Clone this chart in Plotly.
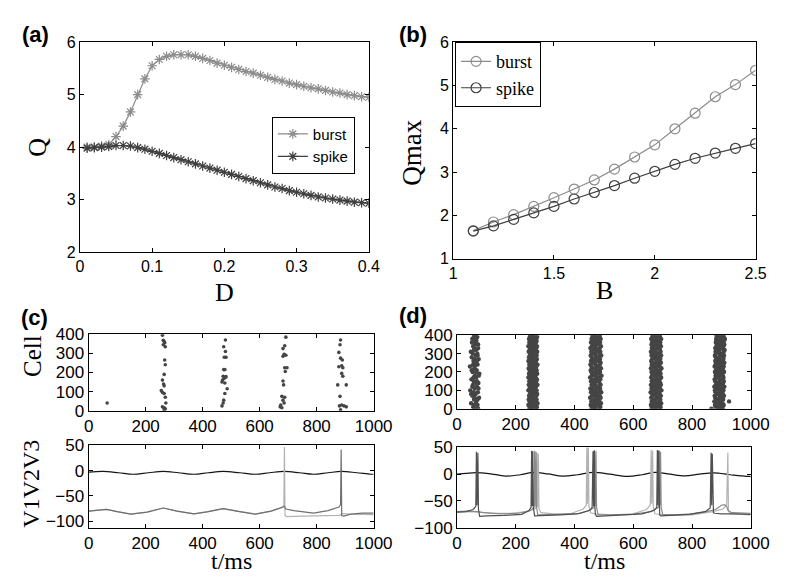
import plotly.graph_objects as go

W, H = 786, 580

# ---------------- panel (a) ----------------
D_vals = [0.01, 0.02, 0.03, 0.04, 0.05, 0.06, 0.07, 0.08, 0.09, 0.10,
          0.11, 0.12, 0.13, 0.14, 0.15, 0.16, 0.17, 0.18, 0.19, 0.20,
          0.21, 0.22, 0.23, 0.24, 0.25, 0.26, 0.27, 0.28, 0.29, 0.30,
          0.31, 0.32, 0.33, 0.34, 0.35, 0.36, 0.37, 0.38, 0.39, 0.40]
Q_burst = [4.00, 4.00, 4.02, 4.05, 4.20, 4.40, 4.67, 5.00, 5.30, 5.55,
           5.67, 5.73, 5.76, 5.76, 5.76, 5.73, 5.69, 5.65, 5.60, 5.56,
           5.52, 5.48, 5.44, 5.41, 5.37, 5.33, 5.29, 5.26, 5.22, 5.19,
           5.16, 5.13, 5.11, 5.08, 5.05, 5.03, 5.00, 4.98, 4.96, 4.95]
Q_spike = [3.98, 3.99, 4.00, 4.01, 4.03, 4.03, 4.02, 3.99, 3.96, 3.92,
           3.88, 3.84, 3.80, 3.76, 3.72, 3.68, 3.64, 3.60, 3.56, 3.52,
           3.48, 3.44, 3.40, 3.36, 3.32, 3.28, 3.24, 3.21, 3.17, 3.14,
           3.11, 3.08, 3.05, 3.03, 3.01, 2.99, 2.97, 2.95, 2.94, 2.93]

# ---------------- panel (b) ----------------
B_vals = [1.1, 1.2, 1.3, 1.4, 1.5, 1.6, 1.7, 1.8, 1.9, 2.0, 2.1, 2.2, 2.3, 2.4, 2.5]
Qmax_burst = [1.65, 1.85, 2.02, 2.21, 2.41, 2.61, 2.82, 3.07, 3.35, 3.63, 4.00, 4.36, 4.74, 5.02, 5.35]
Qmax_spike = [1.64, 1.76, 1.91, 2.06, 2.21, 2.38, 2.53, 2.69, 2.86, 3.02, 3.18, 3.32, 3.44, 3.55, 3.66]

# ---------------- panel (c) raster ----------------
rc_time = [65,
           259, 262, 265, 267, 262, 269, 267, 269, 265, 259, 263, 265, 255, 259, 265, 269, 271, 259, 265, 269, 265,
           480, 474, 480, 476, 482, 474, 478, 472, 480, 476, 470, 468, 478, 486, 478, 474, 472, 468, 482,
           692, 688, 682, 686, 692, 682, 688, 696, 690, 682, 684, 678, 682, 688, 674, 672, 678, 686,
           884, 882, 878, 884, 890, 888, 878, 892, 888, 892, 874, 904, 882, 880, 888, 896, 904, 884]
rc_cell = [40,
           395, 368, 362, 355, 345, 335, 265, 240, 190, 160, 140, 130, 105, 95, 90, 70, 40, 20, 15, 10, 5,
           370, 335, 310, 280, 280, 215, 215, 180, 175, 170, 160, 150, 145, 115, 90, 55, 40, 25, 178,
           385, 340, 325, 295, 290, 285, 225, 225, 205, 155, 135, 75, 55, 70, 30, 20, 15, 40,
           370, 345, 305, 275, 265, 235, 230, 225, 195, 180, 135, 135, 75, 25, 30, 25, 20, 5]

# ---------------- panel (c) voltages (t ms, mV) ----------------
vc_black = [(0, -3), (50, -1.5), (105, -4), (157, -7), (210, -4), (262, -1.5), (315, -4), (370, -7),
            (420, -4), (472, -1.5), (530, -4), (585, -7), (635, -4), (687, -1.5), (740, -4), (789, -7),
            (840, -4), (887, -1.5), (940, -4), (990, -7), (1000, -7)]
vc_light = [(0, -80), (30, -78.5), (63, -76.5), (100, -81), (148, -86), (205, -82), (262, -74), (310, -80),
            (370, -85.5), (420, -81), (472, -75), (530, -81), (585, -86), (640, -80), (680, -73), (685, -68),
            (687, 47), (689, -89), (695, -91), (750, -90), (820, -89.5), (880, -88.5), (890, -85), (920, -86),
            (1000, -87)]
vc_mid = [(0, -80), (30, -78.5), (63, -76.5), (100, -81), (148, -86), (205, -82), (262, -74), (310, -80),
          (370, -85.5), (420, -81), (472, -75), (530, -81), (585, -86), (640, -80), (680, -72), (687, -71),
          (692, -76), (720, -79), (789, -84), (840, -79), (878, -72), (884, -67), (886, 42), (888, -89),
          (895, -90), (920, -86), (960, -84), (1000, -84)]

# ---------------- panel (d) raster (spike times per cell row) ----------------
rd_cells = list(range(0, 401, 10))
rd_band1_a = [62, 55, 70, 48, 66, 58, 75, 52, 63, 71, 45, 60, 68, 54, 73, 57, 49, 65, 61, 76,
              53, 67, 59, 44, 70, 62, 56, 74, 50, 64, 69, 47, 58, 72, 55, 63, 51, 66, 60, 57, 64]
rd_band1_b = [72, None, 58, 64, None, 70, 60, None, 48, 57, None, 73, 52, None, 62, 68, None, 56, 74, None,
              65, 50, None, 60, 55, None, 68, 61, None, 70, 54, None, 66, 59, None, 72, 64, None, 52, 69, 58]
rd_band2_l = [246, 249, 243, 251, 247, 244, 250, 245, 248, 252, 243, 247, 250, 244, 249, 246, 251, 243, 248, 245,
              250, 247, 244, 252, 246, 249, 243, 250, 245, 248, 251, 244, 247, 250, 243, 249, 246, 252, 245, 248, 250]
rd_band2_m = [258, 255, 261, 257, 259, 254, 262, 256, 260, 258, 255, 263, 257, 259, 254, 261, 258, 256, 262, 255,
              259, 257, 260, 254, 261, 258, 256, 263, 257, 255, 260, 259, 254, 262, 256, 258, 261, 255, 259, 257, 260]
rd_band2_r = [269, 272, 266, 274, 268, 271, 265, 270, 273, 267, 271, 264, 269, 274, 266, 270, 272, 268, 265, 273,
              269, 271, 266, 270, 274, 267, 269, 272, 265, 271, 268, 273, 266, 270, 272, 264, 269, 271, 267, 273, 268]
rd_band3_l = [458, 462, 455, 461, 457, 464, 453, 459, 463, 456, 460, 454, 462, 458, 465, 456, 461, 453, 459, 463,
              457, 455, 462, 458, 454, 461, 456, 463, 459, 455, 460, 457, 462, 454, 459, 464, 456, 461, 458, 463, 460]
rd_band3_m = [472, 469, 475, 471, 474, 468, 476, 470, 473, 475, 469, 472, 477, 471, 468, 474, 472, 476, 470, 473,
              469, 475, 471, 477, 472, 468, 474, 470, 476, 472, 469, 475, 471, 473, 468, 476, 472, 470, 474, 471, 473]
rd_band3_r = [484, 488, 482, 490, 485, 483, 489, 486, 481, 491, 484, 487, 483, 489, 485, 482, 488, 486, 492, 483,
              487, 485, 490, 482, 486, 489, 484, 487, 483, 491, 485, 488, 482, 486, 490, 484, 487, 483, 489, 485, 486]
rd_band4_l = [662, 667, 660, 665, 663, 668, 661, 666, 664, 659, 667, 662, 665, 660, 668, 663, 666, 661, 664, 669,
              662, 665, 660, 667, 663, 666, 661, 664, 668, 662, 665, 660, 667, 663, 666, 662, 664, 668, 661, 665, 666]
rd_band4_m = [676, 679, 674, 681, 677, 675, 680, 678, 673, 682, 676, 679, 675, 681, 677, 674, 680, 678, 676, 683,
              675, 679, 677, 681, 674, 678, 680, 676, 682, 675, 679, 677, 673, 680, 678, 676, 681, 675, 679, 677, 678]
rd_band4_r = [690, 693, 688, 695, 689, 692, 687, 694, 690, 688, 696, 691, 689, 694, 692, 687, 690, 695, 689, 693,
              688, 691, 696, 690, 687, 694, 689, 692, 690, 695, 688, 693, 691, 689, 694, 690, 692, 688, 695, 691, 690]
rd_band5_l = [866, 880, 878, 884, 876, 882, 879, 877, 885, 880, 878, 883, 876, 881, 884, 879, 877, 882, 880, 886,
              878, 881, 884, 877, 880, 883, 879, 885, 881, 878, 882, 880, 884, 879, 883, 886, 881, 884, 882, 885, 883]
rd_band5_m = [892, 890, 894, 891, 896, 889, 893, 895, 890, 897, 892, 894, 889, 896, 891, 893, 895, 890, 894, 892,
              897, 891, 893, 895, 890, 894, 896, 892, 893, 897, 895, 891, 894, 896, 893, 895, 897, 894, 898, 896, 895]
rd_band5_r = [905, 902, 908, 904, 926, 906, 903, 909, 905, 902, 907, 904, 910, 903, 906, 908, 904, 907, 905, 902,
              909, 906, 903, 908, 905, 910, 904, 907, 906, 909, 903, 908, 911, 905, 907, 910, 906, 909, 912, 908, 907]

# ---------------- panel (d) voltages (t ms, mV) ----------------
vd_black = [(0, 0), (30, 1.5), (65, 3), (110, 1), (165, -3.5), (215, -1), (262, 3.5), (310, 0.5), (360, -3.5),
            (410, -1), (465, 3.5), (520, 0), (580, -4), (630, -1), (675, 3.5), (725, 0), (776, -3), (825, 0),
            (875, 2.5), (930, -1), (985, -4), (1000, -4)]
vd_dark = [(0, -71), (30, -70), (55, -66), (64, -60), (66, 42), (68, -58), (71, 40), (73, -65), (77, -79),
           (100, -78), (160, -77), (220, -75), (245, -68), (252, -62), (254, 44), (256, -60), (258, 43), (260, -62),
           (264, -78), (290, -77), (350, -76), (410, -74), (450, -68), (460, -62), (463, 43), (465, -60), (467, 44),
           (469, -60), (471, -75), (475, -79), (500, -78), (560, -76), (630, -74), (670, -68), (680, -62), (682, 45),
           (684, -58), (686, 44), (688, -60), (690, -76), (694, -78), (720, -77), (790, -75), (845, -70), (862, -63),
           (865, 40), (867, -58), (869, 38), (871, -60), (873, -72), (878, -73), (900, -74), (950, -74), (1000, -75)]
vd_mid = [(0, -70), (40, -69), (70, -70), (90, -72), (150, -74), (210, -73), (250, -68), (262, -62), (264, 44),
          (266, -60), (269, 42), (271, -62), (275, -76), (300, -76), (360, -75), (420, -73), (455, -67), (466, -62),
          (468, 45), (470, -60), (473, 43), (475, -62), (480, -76), (520, -76), (600, -75), (660, -70), (686, -62),
          (689, 44), (691, -58), (693, 42), (695, -62), (700, -75), (740, -76), (800, -74), (850, -70), (880, -66),
          (900, -58), (910, -57), (918, -60), (923, -68), (935, -72), (1000, -73)]
vd_light = [(0, -71), (40, -70), (80, -71), (120, -73), (180, -73), (240, -70), (268, -64), (272, 40), (274, -62),
            (277, 38), (279, -64), (285, -72), (330, -74), (390, -73), (430, -65), (440, -58), (442, 55), (444, -55),
            (447, 55), (449, -60), (455, -72), (470, -74), (530, -76), (600, -74), (645, -66), (658, -58), (661, 45),
            (663, -55), (666, 44), (668, -60), (674, -74), (720, -77), (800, -76), (870, -70), (905, -65), (918, -58),
            (922, 40), (924, -68), (930, -74), (1000, -76)]

# ---------------- colours / fonts ----------------
C_BURST = "#8c8c8c"
C_SPIKE = "#3f3f3f"
C_DOT = "#454545"
C_BLACK = "#151515"
C_LIGHT = "#b3b3b3"
C_MID = "#6f6f6f"
C_MID_D = "#8a8a8a"
C_DARK = "#505050"
SANS = "Liberation Sans, Arial, sans-serif"
SERIF = "Liberation Serif, Times New Roman, serif"


def px_x(a, b):
    return [a / W, b / W]


def px_y(top, bottom):
    return [1 - bottom / H, 1 - top / H]


def axis(domain, rng, tickvals, anchor, fsize):
    return dict(domain=domain, range=rng, tickvals=tickvals, ticks="inside", ticklen=4,
                tickcolor="black", tickwidth=1, showline=True, linecolor="black", linewidth=1,
                mirror="ticks", showgrid=False, zeroline=False, anchor=anchor,
                tickfont=dict(family=SANS, size=fsize, color="black"))


fig = go.Figure()

# (a)
fig.add_trace(go.Scatter(x=D_vals, y=Q_burst, mode="lines+markers", name="burst",
                         line=dict(color=C_BURST, width=1.2),
                         marker=dict(symbol="asterisk-open", size=8, color=C_BURST,
                                     line=dict(color=C_BURST, width=1.2)),
                         xaxis="x", yaxis="y", legend="legend"))
fig.add_trace(go.Scatter(x=D_vals, y=Q_spike, mode="lines+markers", name="spike",
                         line=dict(color=C_SPIKE, width=1.2),
                         marker=dict(symbol="asterisk-open", size=8, color=C_SPIKE,
                                     line=dict(color=C_SPIKE, width=1.2)),
                         xaxis="x", yaxis="y", legend="legend"))
# (b)
fig.add_trace(go.Scatter(x=B_vals, y=Qmax_burst, mode="lines+markers", name="burst",
                         line=dict(color=C_BURST, width=1.2),
                         marker=dict(symbol="circle-open", size=10, color=C_BURST,
                                     line=dict(color=C_BURST, width=1.2)),
                         xaxis="x2", yaxis="y2", legend="legend2"))
fig.add_trace(go.Scatter(x=B_vals, y=Qmax_spike, mode="lines+markers", name="spike",
                         line=dict(color=C_SPIKE, width=1.2),
                         marker=dict(symbol="circle-open", size=10, color=C_SPIKE,
                                     line=dict(color=C_SPIKE, width=1.2)),
                         xaxis="x2", yaxis="y2", legend="legend2"))
# (c) raster
fig.add_trace(go.Scatter(x=rc_time, y=rc_cell, mode="markers", showlegend=False,
                         marker=dict(symbol="circle", size=3.6, color=C_DOT),
                         xaxis="x3", yaxis="y3"))
# (c) voltages
for data, col, shape in [(vc_black, C_BLACK, "spline"), (vc_light, C_LIGHT, "linear"), (vc_mid, C_MID, "linear")]:
    t, v = zip(*data)
    fig.add_trace(go.Scatter(x=list(t), y=list(v), mode="lines", showlegend=False,
                             line=dict(color=col, width=1.2, shape=shape),
                             xaxis="x4", yaxis="y4"))
# (d) raster
rd_x, rd_y = [], []
for band in [rd_band1_a, rd_band1_b, rd_band2_l, rd_band2_m, rd_band2_r, rd_band3_l, rd_band3_m,
             rd_band3_r, rd_band4_l, rd_band4_m, rd_band4_r, rd_band5_l, rd_band5_m, rd_band5_r]:
    for t, c in zip(band, rd_cells):
        if t is not None:
            rd_x.append(t)
            rd_y.append(c)
fig.add_trace(go.Scatter(x=rd_x, y=rd_y, mode="markers", showlegend=False,
                         marker=dict(symbol="circle", size=4.4, color=C_DOT),
                         xaxis="x5", yaxis="y5"))
# (d) voltages
for data, col, shape in [(vd_black, C_BLACK, "spline"), (vd_light, C_LIGHT, "linear"),
                         (vd_mid, C_MID_D, "linear"), (vd_dark, C_DARK, "linear")]:
    t, v = zip(*data)
    fig.add_trace(go.Scatter(x=list(t), y=list(v), mode="lines", showlegend=False,
                             line=dict(color=col, width=1.2, shape=shape),
                             xaxis="x6", yaxis="y6"))

tk_t = [0, 200, 400, 600, 800, 1000]
layout = dict(
    width=W, height=H, margin=dict(l=0, r=0, t=0, b=0),
    paper_bgcolor="white", plot_bgcolor="white",
    xaxis=axis(px_x(69, 367), [0, 0.4], [0, 0.1, 0.2, 0.3, 0.4], "y", 16),
    yaxis=axis(px_y(26, 243), [2, 6], [2, 3, 4, 5, 6], "x", 16),
    xaxis2=axis(px_x(454, 766), [1, 2.5], [1, 1.5, 2, 2.5], "y2", 16),
    yaxis2=axis(px_y(26, 250), [1, 6], [1, 2, 3, 4, 5, 6], "x2", 16),
    xaxis3=axis(px_x(78, 372), [0, 1000], tk_t, "y3", 17),
    yaxis3=axis(px_y(328, 407), [0, 400], [0, 100, 200, 300, 400], "x3", 17),
    xaxis4=axis(px_x(78, 372), [0, 1000], tk_t, "y4", 17),
    yaxis4=axis(px_y(443, 528), [-113, 50], [-100, -50, 0, 50], "x4", 17),
    xaxis5=axis(px_x(458, 761), [0, 1000], tk_t, "y5", 17),
    yaxis5=axis(px_y(329, 405), [0, 400], [0, 100, 200, 300, 400], "x5", 17),
    xaxis6=axis(px_x(458, 761), [0, 1000], tk_t, "y6", 17),
    yaxis6=axis(px_y(445, 528), [-100, 50], [-100, -50, 0, 50], "x6", 17),
    legend=dict(x=267 / W, y=1 - 103 / H, xanchor="left", yanchor="top", bgcolor="white",
                bordercolor="black", borderwidth=1, font=dict(family=SANS, size=15, color="black"),
                tracegroupgap=0),
    legend2=dict(x=456 / W, y=1 - 26 / H, xanchor="left", yanchor="top", bgcolor="white",
                 bordercolor="black", borderwidth=1, font=dict(family=SERIF, size=18, color="black"),
                 tracegroupgap=0),
)
fig.update_layout(**layout)


def ann(text, x, y, size, family=SERIF, angle=0, bold=False, xanchor="center", yanchor="middle"):
    fig.add_annotation(text=("<b>%s</b>" % text) if bold else text, x=x / W, y=1 - y / H,
                       xref="paper", yref="paper", showarrow=False, textangle=angle,
                       xanchor=xanchor, yanchor=yanchor,
                       font=dict(family=family, size=size, color="black"))


# axis titles
ann("Q", 25, 135, 26, angle=-90)
ann("D", 218, 285, 26)
ann("Qmax", 412, 140, 27, angle=-90)
ann("B", 610, 283, 26)
ann("Cell", 20, 350, 25, angle=-90)
ann("V1V2V3", 19, 482, 24, angle=-90)
ann("t/ms", 225, 578, 24, yanchor="bottom")
ann("t/ms", 610, 578, 24, yanchor="bottom")
# panel labels
ann("(a)", 7, 18, 22, family=SANS, bold=True, xanchor="left")
ann("(b)", 396, 18, 22, family=SANS, bold=True, xanchor="left")
ann("(c)", 6, 311, 22, family=SANS, bold=True, xanchor="left")
ann("(d)", 396, 309, 22, family=SANS, bold=True, xanchor="left")

fig.write_html("out.html")
